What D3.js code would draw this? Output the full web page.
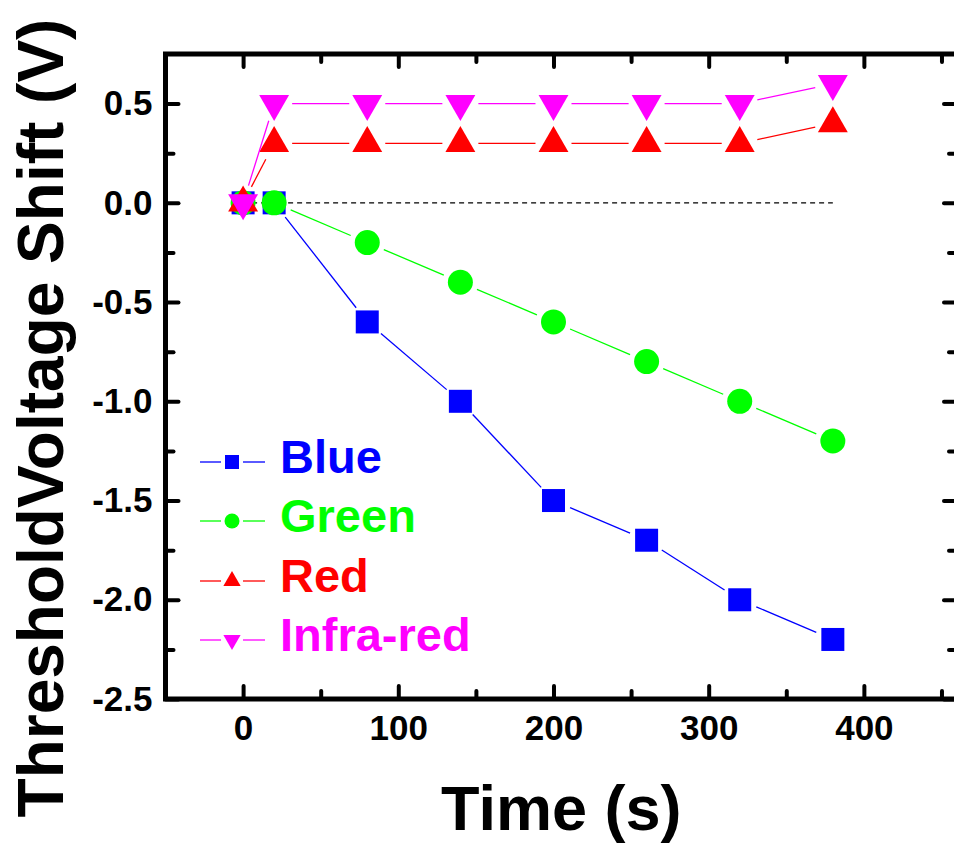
<!DOCTYPE html>
<html>
<head>
<meta charset="utf-8">
<script src="https://cdn.jsdelivr.net/npm/d3@7"></script>
<style>
  body { margin: 0; background: #fff; }
  svg { display: block; }
  text { font-family: "Liberation Sans", Arial, sans-serif; font-weight: bold; }
</style>
</head>
<body>
<div id="chart"></div>
<script>
// time points (s)
var times = [0, 20, 80, 140, 200, 260, 320, 380];

// threshold voltage shift (V) per illumination colour
var blueVals = [0, 0, -0.6, -1.0, -1.5, -1.7, -2.0, -2.2];
var greenVals = [0, 0, -0.2, -0.4, -0.6, -0.8, -1.0, -1.2];
var redVals = [0, 0.3, 0.3, 0.3, 0.3, 0.3, 0.3, 0.4];
var irVals = [0, 0.5, 0.5, 0.5, 0.5, 0.5, 0.5, 0.6];

var seriesNames = ["Blue", "Green", "Red", "Infra-red"];
var seriesColors = ["#0000ff", "#00ff00", "#ff0000", "#ff00ff"];
var seriesShapes = ["square", "circle", "up", "down"];

var xMajor = [0, 100, 200, 300, 400];
var xMinor = [50, 150, 250, 350, 450];
var yMajor = [-2.5, -2.0, -1.5, -1.0, -0.5, 0.0, 0.5];
var yMinor = [-2.25, -1.75, -1.25, -0.75, -0.25, 0.25];

var svgW = 954,
    svgH = 849;

// plot frame (right side runs just off the picture)
var frame = {
    left: 165.5,
    top: 54,
    right: 957,
    bottom: 699
};

var svg = d3.select("#chart")
    .append("svg")
    .attr("width", svgW)
    .attr("height", svgH);

var xScale = d3.scaleLinear()
    .domain([-50, 460])
    .range([frame.left, frame.right]);
var yScale = d3.scaleLinear()
    .domain([-2.5, 0.75])
    .range([frame.bottom, frame.top]);

// plain hyphen minus, like the original
var yFmt = function(d) {
    return d3.format(".1f")(d).replace("\u2212", "-");
};

// zero reference line
svg.append("line")
    .attr("x1", xScale(0))
    .attr("x2", xScale(380))
    .attr("y1", yScale(0))
    .attr("y2", yScale(0))
    .attr("stroke", "#000")
    .attr("stroke-width", 1.1)
    .attr("stroke-dasharray", "5,4");

// marker path generator, triangles centred on their centroid
function markerPath(shape, s) {
    if (shape === "square") {
        return "M" + (-s / 2) + "," + (-s / 2) + "h" + s + "v" + s + "h" + (-s) + "Z";
    }
    if (shape === "circle") {
        var r = s / 2;
        return "M" + (-r) + ",0A" + r + "," + r + " 0 1,0 " + r + ",0A" + r + "," + r + " 0 1,0 " + (-r) + ",0Z";
    }
    var w = s * 1.15,
        h = s;
    if (shape === "up") {
        return "M0," + (-2 * h / 3) + "L" + (w / 2) + "," + (h / 3) + "L" + (-w / 2) + "," + (h / 3) + "Z";
    }
    return "M0," + (2 * h / 3) + "L" + (w / 2) + "," + (-h / 3) + "L" + (-w / 2) + "," + (-h / 3) + "Z";
}

var markerSize = { square: 23, circle: 25, up: 26, down: 26 };
var gap = 18;

var allVals = [blueVals, greenVals, redVals, irVals];

allVals.forEach(function(vals, si) {
    var pts = times.map(function(t, i) {
        return [xScale(t), yScale(vals[i])];
    });
    var g = svg.append("g");

    // line segments, broken around each marker
    for (var i = 0; i < pts.length - 1; i++) {
        var a = pts[i],
            b = pts[i + 1];
        var dx = b[0] - a[0],
            dy = b[1] - a[1];
        var len = Math.sqrt(dx * dx + dy * dy);
        if (len <= 2 * gap) continue;
        var ux = dx / len,
            uy = dy / len;
        g.append("line")
            .attr("x1", a[0] + ux * gap)
            .attr("y1", a[1] + uy * gap)
            .attr("x2", b[0] - ux * gap)
            .attr("y2", b[1] - uy * gap)
            .attr("stroke", seriesColors[si])
            .attr("stroke-width", 1.3);
    }

    g.selectAll(".pt")
        .data(pts)
        .enter()
        .append("path")
        .attr("class", "pt")
        .attr("transform", function(d) {
            return "translate(" + d[0] + "," + d[1] + ")";
        })
        .attr("d", markerPath(seriesShapes[si], markerSize[seriesShapes[si]]))
        .attr("fill", seriesColors[si]);
});

// axes: all ticks point inwards
function styleAxis(g) {
    g.select(".domain").remove();
    g.selectAll(".tick line")
        .attr("stroke", "#000")
        .attr("stroke-width", 4)
        .attr("stroke-linecap", "round");
    g.selectAll(".tick text")
        .attr("fill", "#000")
        .style("font-size", "35px")
        .style("font-family", "'Liberation Sans', Arial, sans-serif")
        .style("font-weight", "bold");
}

var bottomG = svg.append("g").attr("transform", "translate(0," + frame.bottom + ")");
bottomG.call(d3.axisBottom(xScale).tickValues(xMajor).tickSize(-13).tickPadding(16).tickFormat(d3.format("d")))
    .call(styleAxis);
bottomG.selectAll(".tick text").attr("dy", "0.71em");
svg.append("g").attr("transform", "translate(0," + frame.bottom + ")")
    .call(d3.axisBottom(xScale).tickValues(xMinor).tickSize(-8).tickFormat(""))
    .call(styleAxis);

svg.append("g").attr("transform", "translate(0," + frame.top + ")")
    .call(d3.axisTop(xScale).tickValues(xMajor).tickSize(-13).tickFormat(""))
    .call(styleAxis);
svg.append("g").attr("transform", "translate(0," + frame.top + ")")
    .call(d3.axisTop(xScale).tickValues(xMinor).tickSize(-8).tickFormat(""))
    .call(styleAxis);

svg.append("g").attr("transform", "translate(" + frame.left + ",0)")
    .call(d3.axisLeft(yScale).tickValues(yMajor).tickSize(-13).tickPadding(13).tickFormat(yFmt))
    .call(styleAxis);
svg.append("g").attr("transform", "translate(" + frame.left + ",0)")
    .call(d3.axisLeft(yScale).tickValues(yMinor).tickSize(-8).tickFormat(""))
    .call(styleAxis);

svg.append("g").attr("transform", "translate(" + frame.right + ",0)")
    .call(d3.axisRight(yScale).tickValues(yMajor).tickSize(-13).tickFormat(""))
    .call(styleAxis);
svg.append("g").attr("transform", "translate(" + frame.right + ",0)")
    .call(d3.axisRight(yScale).tickValues(yMinor).tickSize(-8).tickFormat(""))
    .call(styleAxis);

// frame
svg.append("rect")
    .attr("x", frame.left)
    .attr("y", frame.top)
    .attr("width", frame.right - frame.left)
    .attr("height", frame.bottom - frame.top)
    .attr("fill", "none")
    .attr("stroke", "#000")
    .attr("stroke-width", 5);

// axis titles
svg.append("text")
    .attr("x", (frame.left + frame.right) / 2)
    .attr("y", 830)
    .attr("text-anchor", "middle")
    .style("font-size", "63px")
    .text("Time (s)");

svg.append("text")
    .attr("transform", "translate(63,418) rotate(-90)")
    .attr("text-anchor", "middle")
    .style("font-size", "64px")
    .text("ThresholdVoltage Shift (V)");

// legend
var legRowY = [462, 521, 581, 640];
var legMarkerSize = { square: 14, circle: 15, up: 15, down: 15 };
var leg = svg.append("g");
seriesNames.forEach(function(name, i) {
    var y = legRowY[i];
    leg.append("line")
        .attr("x1", 200).attr("x2", 221)
        .attr("y1", y).attr("y2", y)
        .attr("stroke", seriesColors[i])
        .attr("stroke-width", 1.3);
    leg.append("line")
        .attr("x1", 243).attr("x2", 265)
        .attr("y1", y).attr("y2", y)
        .attr("stroke", seriesColors[i])
        .attr("stroke-width", 1.3);
    leg.append("path")
        .attr("transform", "translate(232," + y + ")")
        .attr("d", markerPath(seriesShapes[i], legMarkerSize[seriesShapes[i]]))
        .attr("fill", seriesColors[i]);
    leg.append("text")
        .attr("x", 280)
        .attr("y", y + 11)
        .attr("fill", seriesColors[i])
        .style("font-size", "47px")
        .text(name);
});
</script>
</body>
</html>
